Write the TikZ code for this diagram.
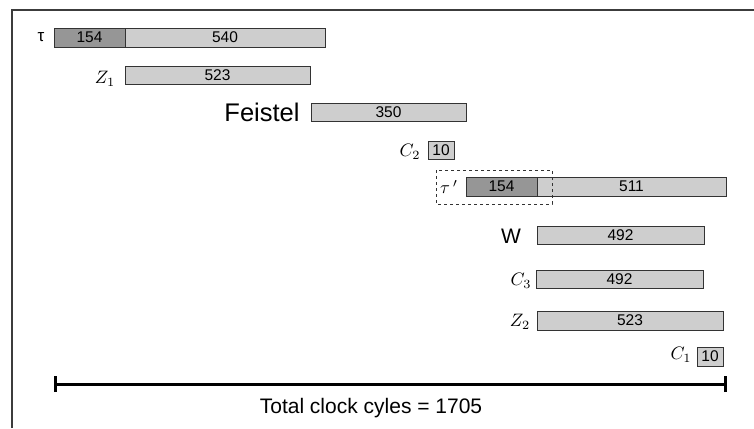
\documentclass[tikz,border=0pt]{standalone}
\usepackage{fontspec}
\setmainfont{Liberation Sans}
\newcommand{\mathlabel}[1]{\scalebox{1.8}{$#1$}}
\begin{document}
\begin{tikzpicture}[x=1pt,y=-1pt,
  every node/.style={inner sep=0pt, outer sep=0pt},
  bar/.style={draw=black!80, line width=0.8pt, fill=lightbar, anchor=west,
    minimum height=19pt, font=\fontsize{15.5}{15.5}\selectfont},
  darkbar/.style={bar, fill=darkbar},
  lbl/.style={font=\fontsize{17}{17}\selectfont}]
\definecolor{lightbar}{RGB}{206,206,206}
\definecolor{darkbar}{RGB}{150,150,150}
\definecolor{framegray}{RGB}{60,60,60}
\useasboundingbox (0,0) rectangle (754,428);
% frame (clipped at the right and bottom)
\draw[framegray, line width=1.3pt] (12,428) -- (12,10) -- (754,10);

% tau
\node[lbl] (tl) at (41,37) {τ};
\node[darkbar, minimum width=71pt] (t1) at (54,37.5) {154};
\node[bar, minimum width=200pt] (t2) at (t1.east) {540};
% Z1
\node (zl) at (105,79) {\mathlabel{Z_1}};
\node[bar, minimum width=185pt, minimum height=18pt] (z1) at (125,75) {523};
% Feistel
\node[font=\fontsize{25.5}{25.5}\selectfont] (fl) at (262,112) {Feistel};
\node[bar, minimum width=155pt, minimum height=18pt] (f) at (311,112) {350};
% C2
\node (c2l) at (410,152) {\mathlabel{C_2}};
\node[bar, minimum width=26pt, minimum height=18pt] (c2) at (428,150) {10};
% tau'
\node[darkbar, minimum width=71pt] (tp1) at (466,186.5) {154};
\node[bar, minimum width=189pt] (tp2) at (tp1.east) {511};
\node (tpl) at (449,187) {\mathlabel{\tau\,'}};
\draw[black!80, dashed, line width=0.8pt] (436,170) rectangle (552,204);
% W
\node[font=\fontsize{21}{21}\selectfont] (wl) at (511,236) {W};
\node[bar, minimum width=167pt, minimum height=18pt] (w) at (537,235) {492};
% C3
\node (c3l) at (521,281) {\mathlabel{C_3}};
\node[bar, minimum width=167pt, minimum height=18pt] (c3) at (536,279) {492};
% Z2
\node (z2l) at (520,322) {\mathlabel{Z_2}};
\node[bar, minimum width=186pt] (z2) at (537,320.5) {523};
% C1
\node (c1l) at (681,355) {\mathlabel{C_1}};
\node[bar, minimum width=26pt] (c1) at (697,356.5) {10};

% total span
\coordinate (s) at (55,384);
\coordinate (e) at (725,384);
\draw[line width=3pt] (s) -- (e);
\draw[line width=3pt] ([yshift=-8pt]s) -- ([yshift=8pt]s);
\draw[line width=3pt] ([yshift=-8pt]e) -- ([yshift=8pt]e);
\node[font=\fontsize{21}{21}\selectfont] (tot) at (371,408) {Total clock cyles = 1705};
\end{tikzpicture}
\end{document}
